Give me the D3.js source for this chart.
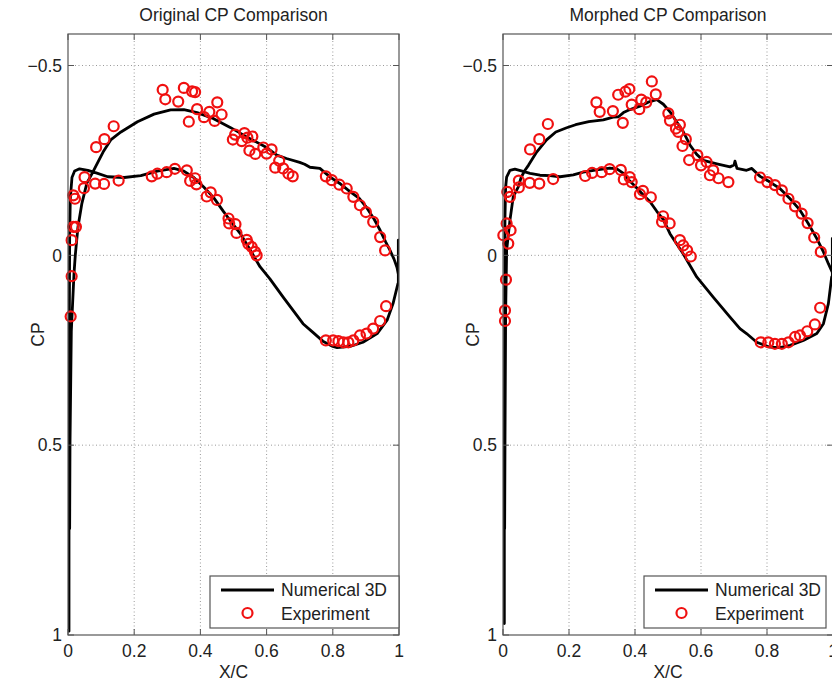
<!DOCTYPE html>
<html><head><meta charset="utf-8">
<script src="https://cdn.jsdelivr.net/npm/d3@7"></script>
<style>
body{margin:0;background:#fff}
svg{display:block}
text{font-family:"Liberation Sans",Arial,sans-serif;fill:#222}
</style>
</head><body><svg id="chart" width="832" height="682"></svg>
<script>
// ---------------- data ----------------
const xTicks = [0, 0.2, 0.4, 0.6, 0.8, 1];
const yTicks = [-0.5, 0, 0.5, 1];
const yDomain = [-0.583, 1];
const titles = ["Original CP Comparison", "Morphed CP Comparison"];
const legendLabels = ["Numerical 3D", "Experiment"];
const xLabel = "X/C";
const yLabel = "CP";

// Original - numerical, lower branch (leading edge -> trailing edge)
const origNumLower = [[0.003,0.99],[0.003,0.6],[0.004,0.2],[0.005,-0.05],[0.007,-0.15],[0.012,-0.205],[0.02,-0.222],[0.035,-0.228],[0.06,-0.224],[0.085,-0.217],[0.12,-0.207],[0.17,-0.205],[0.22,-0.21],[0.27,-0.222],[0.32,-0.229],[0.35,-0.222],[0.38,-0.205],[0.41,-0.18],[0.44,-0.152],[0.47,-0.115],[0.5,-0.08],[0.52,-0.058],[0.55,-0.015],[0.58,0.03],[0.61,0.062],[0.65,0.11],[0.71,0.18],[0.74,0.203],[0.77,0.226],[0.8,0.24],[0.813,0.243],[0.852,0.240],[0.891,0.229],[0.934,0.206],[0.964,0.171],[0.982,0.127],[0.997,0.074]];
// Original - numerical, trailing edge
const origNumTE = [[0.998,0.074],[0.998,-0.04],[0.998,0.05]];
// Original - numerical, upper branch (trailing edge -> leading edge)
const origNumUpper = [[0.998,0.05],[0.994,0.032],[0.985,0.01],[0.973,-0.013],[0.96,-0.035],[0.943,-0.066],[0.925,-0.095],[0.903,-0.125],[0.88,-0.15],[0.852,-0.168],[0.82,-0.19],[0.792,-0.206],[0.761,-0.229],[0.731,-0.232],[0.715,-0.24],[0.70,-0.245],[0.66,-0.255],[0.631,-0.264],[0.6,-0.284],[0.54,-0.312],[0.49,-0.337],[0.44,-0.36],[0.39,-0.376],[0.35,-0.384],[0.31,-0.383],[0.26,-0.372],[0.21,-0.352],[0.16,-0.325],[0.13,-0.305],[0.106,-0.272],[0.09,-0.245],[0.073,-0.216],[0.057,-0.19],[0.042,-0.137],[0.03,-0.074],[0.022,0.0],[0.018,0.05],[0.01,0.2],[0.006,0.5],[0.005,0.72]];
// Original - experiment
const origExp = [[0.016,-0.158],[0.021,-0.149],[0.016,-0.075],[0.024,-0.075],[0.011,-0.040],[0.011,0.055],[0.008,0.161],
[0.050,-0.206],[0.048,-0.177],[0.082,-0.189],[0.109,-0.188],[0.153,-0.197],[0.253,-0.208],[0.270,-0.215],[0.298,-0.219],[0.323,-0.228],[0.359,-0.224],[0.369,-0.196],[0.384,-0.203],[0.388,-0.187],[0.419,-0.155],[0.431,-0.166],[0.450,-0.146],[0.485,-0.097],[0.487,-0.084],[0.506,-0.082],[0.509,-0.059],[0.540,-0.041],[0.545,-0.030],[0.555,-0.022],[0.565,-0.009],[0.570,0.0],
[0.085,-0.285],[0.110,-0.306],[0.138,-0.340],
[0.286,-0.436],[0.294,-0.411],[0.350,-0.441],[0.375,-0.432],[0.384,-0.430],[0.333,-0.405],[0.365,-0.352],[0.390,-0.385],[0.411,-0.364],[0.427,-0.378],[0.443,-0.354],[0.451,-0.403],[0.464,-0.371],[0.498,-0.305],[0.505,-0.318],[0.525,-0.301],[0.533,-0.322],[0.542,-0.310],[0.548,-0.276],[0.557,-0.313],[0.566,-0.267],[0.590,-0.284],[0.600,-0.268],[0.615,-0.279],[0.626,-0.231],[0.638,-0.249],[0.650,-0.229],[0.666,-0.215],[0.679,-0.208],
[0.779,-0.208],[0.797,-0.198],[0.820,-0.186],[0.842,-0.176],[0.862,-0.154],[0.882,-0.132],[0.900,-0.114],[0.922,-0.088],[0.943,-0.048],[0.958,-0.013],
[0.961,0.134],[0.943,0.173],[0.922,0.193],[0.902,0.206],[0.882,0.211],[0.862,0.224],[0.847,0.229],[0.832,0.229],[0.817,0.226],[0.801,0.224],[0.779,0.224]];

// Morphed - numerical, lower branch
const morphNumLower = [[0.004,0.97],[0.004,0.6],[0.005,0.2],[0.006,-0.1],[0.008,-0.18],[0.011,-0.206],[0.021,-0.224],[0.036,-0.227],[0.061,-0.221],[0.082,-0.216],[0.112,-0.211],[0.142,-0.210],[0.173,-0.207],[0.213,-0.212],[0.243,-0.219],[0.284,-0.225],[0.324,-0.230],[0.345,-0.228],[0.365,-0.216],[0.385,-0.195],[0.405,-0.178],[0.425,-0.159],[0.445,-0.142],[0.466,-0.116],[0.486,-0.094],[0.506,-0.057],[0.546,-0.004],[0.587,0.057],[0.637,0.110],[0.688,0.163],[0.718,0.193],[0.738,0.206],[0.769,0.229],[0.809,0.242],[0.839,0.243],[0.870,0.237],[0.910,0.224],[0.951,0.206],[0.971,0.180],[0.986,0.127],[0.996,0.057]];
const morphNumTE = [[0.998,0.057],[0.998,-0.045],[0.998,0.045]];
const morphNumUpper = [[0.998,0.045],[0.986,0.022],[0.971,-0.009],[0.951,-0.044],[0.925,-0.084],[0.9,-0.119],[0.870,-0.149],[0.839,-0.176],[0.809,-0.193],[0.779,-0.208],[0.754,-0.229],[0.738,-0.224],[0.709,-0.229],[0.703,-0.248],[0.700,-0.238],[0.688,-0.233],[0.648,-0.241],[0.607,-0.25],[0.587,-0.266],[0.567,-0.29],[0.546,-0.326],[0.526,-0.352],[0.506,-0.378],[0.486,-0.398],[0.466,-0.41],[0.445,-0.405],[0.415,-0.393],[0.385,-0.384],[0.365,-0.376],[0.35,-0.365],[0.334,-0.364],[0.304,-0.357],[0.26,-0.352],[0.22,-0.344],[0.193,-0.336],[0.16,-0.325],[0.132,-0.304],[0.102,-0.272],[0.077,-0.237],[0.065,-0.222],[0.055,-0.205],[0.046,-0.18],[0.031,-0.154],[0.021,-0.092],[0.011,-0.013],[0.008,0.15],[0.006,0.5],[0.005,0.72]];
const morphExp = [[0.013,-0.167],[0.021,-0.154],[0.011,-0.084],[0.023,-0.066],[0.001,-0.053],[0.016,-0.031],[0.009,0.064],[0.006,0.145],[0.006,0.173],
[0.048,-0.197],[0.048,-0.179],[0.081,-0.191],[0.110,-0.189],[0.152,-0.201],[0.249,-0.209],[0.270,-0.217],[0.299,-0.219],[0.323,-0.227],[0.357,-0.225],[0.366,-0.200],[0.384,-0.206],[0.390,-0.193],[0.415,-0.161],[0.424,-0.170],[0.448,-0.153],[0.485,-0.103],[0.482,-0.088],[0.505,-0.084],[0.536,-0.040],[0.546,-0.026],[0.558,-0.013],[0.569,0.003],
[0.082,-0.279],[0.110,-0.306],[0.136,-0.346],
[0.283,-0.403],[0.293,-0.378],[0.333,-0.380],[0.363,-0.349],[0.349,-0.423],[0.371,-0.431],[0.383,-0.438],[0.390,-0.397],[0.413,-0.385],[0.419,-0.410],[0.434,-0.403],[0.451,-0.458],[0.463,-0.424],[0.501,-0.374],[0.506,-0.355],[0.524,-0.334],[0.536,-0.344],[0.531,-0.325],[0.554,-0.306],[0.544,-0.288],[0.564,-0.251],[0.589,-0.264],[0.600,-0.237],[0.617,-0.246],[0.627,-0.211],[0.637,-0.224],[0.653,-0.203],[0.683,-0.193],
[0.779,-0.205],[0.801,-0.193],[0.824,-0.185],[0.845,-0.171],[0.865,-0.149],[0.885,-0.129],[0.905,-0.110],[0.923,-0.085],[0.943,-0.047],[0.963,-0.009],
[0.961,0.138],[0.945,0.182],[0.922,0.200],[0.900,0.211],[0.885,0.215],[0.865,0.229],[0.845,0.233],[0.824,0.233],[0.804,0.229],[0.781,0.229]];

// ---------------- drawing ----------------
const svg = d3.select("#chart");
svg.append("rect").attr("width",832).attr("height",682).attr("fill","#fff");

const panels = [
  {left:68, right:399, title:titles[0], lower:origNumLower, te:origNumTE, upper:origNumUpper, exp:origExp, legend:{x0:210,x1:399}},
  {left:503, right:833, title:titles[1], lower:morphNumLower, te:morphNumTE, upper:morphNumUpper, exp:morphExp, legend:{x0:644,x1:826}}
];
const plotTop = 34, plotBottom = 635;
const fs = 17.5;
const axisColor = "#555";
const red = "#f01010";
const markR = 5, markW = 2.2, lineW = 2.8;

panels.forEach((p, i) => {
  const x = d3.scaleLinear().domain([0,1]).range([p.left, p.right]);
  const y = d3.scaleLinear().domain(yDomain).range([plotTop, plotBottom]);
  const g = svg.append("g");

  const gridColor = "#9a9a9a";
  g.selectAll(".gx").data(xTicks.filter(t => t>0 && t<1)).join("line")
    .attr("x1", d=>x(d)).attr("x2", d=>x(d)).attr("y1", plotTop).attr("y2", plotBottom)
    .attr("stroke", gridColor).attr("stroke-width",1).attr("stroke-dasharray","1,2.5");
  g.selectAll(".gy").data(yTicks.filter(t => t>yDomain[0] && t<1)).join("line")
    .attr("y1", d=>y(d)).attr("y2", d=>y(d)).attr("x1", p.left).attr("x2", p.right)
    .attr("stroke", gridColor).attr("stroke-width",1).attr("stroke-dasharray","1,2.5");

  const clipId = "clip"+i;
  svg.append("clipPath").attr("id", clipId).append("rect")
    .attr("x", p.left).attr("y", plotTop).attr("width", p.right-p.left).attr("height", plotBottom-plotTop);

  const line = d3.line().x(d=>x(d[0])).y(d=>y(d[1]));
  const full = p.lower.concat(p.te, p.upper);
  g.append("path").attr("d", line(full)).attr("fill","none")
    .attr("stroke","#000").attr("stroke-width",lineW).attr("stroke-linejoin","round").attr("stroke-linecap","round")
    .attr("clip-path","url(#"+clipId+")");

  g.selectAll(".exp").data(p.exp).join("circle")
    .attr("cx", d=>x(d[0])).attr("cy", d=>y(d[1])).attr("r",markR)
    .attr("fill","none").attr("stroke",red).attr("stroke-width",markW);

  g.append("rect").attr("x",p.left).attr("y",plotTop).attr("width",p.right-p.left).attr("height",plotBottom-plotTop)
    .attr("fill","none").attr("stroke",axisColor).attr("stroke-width",1.2);

  const tl = 6;
  xTicks.forEach(t => {
    g.append("line").attr("x1",x(t)).attr("x2",x(t)).attr("y1",plotBottom).attr("y2",plotBottom-tl).attr("stroke",axisColor);
    g.append("line").attr("x1",x(t)).attr("x2",x(t)).attr("y1",plotTop).attr("y2",plotTop+tl).attr("stroke",axisColor);
    g.append("text").attr("x",x(t)).attr("y",657).attr("text-anchor","middle")
      .attr("font-size",fs).text(d3.format("")(t));
  });
  yTicks.forEach(t => {
    g.append("line").attr("x1",p.left).attr("x2",p.left+tl).attr("y1",y(t)).attr("y2",y(t)).attr("stroke",axisColor);
    g.append("line").attr("x1",p.right).attr("x2",p.right-tl).attr("y1",y(t)).attr("y2",y(t)).attr("stroke",axisColor);
    g.append("text").attr("x",p.left-6).attr("y",y(t)).attr("dy","0.36em").attr("text-anchor","end")
      .attr("font-size",fs).text(t<0 ? "\u2212"+Math.abs(t) : String(t));
  });

  const cx = (p.left+p.right)/2;
  g.append("text").attr("x",cx).attr("y",21).attr("text-anchor","middle").attr("font-size",fs).text(p.title);
  g.append("text").attr("x",cx).attr("y",678).attr("text-anchor","middle").attr("font-size",fs).text(xLabel);
  g.append("text").attr("transform","translate("+(p.left-30)+","+((plotTop+plotBottom)/2)+") rotate(-90)")
    .attr("text-anchor","middle").attr("dy","0.35em").attr("font-size",fs).text(yLabel);

  const L = p.legend;
  g.append("rect").attr("x",L.x0).attr("y",576).attr("width",L.x1-L.x0).attr("height",52)
    .attr("fill","#fff").attr("stroke",axisColor).attr("stroke-width",1.2);
  g.append("line").attr("x1",L.x0+11).attr("x2",L.x0+64).attr("y1",590).attr("y2",590)
    .attr("stroke","#000").attr("stroke-width",lineW);
  g.append("circle").attr("cx",L.x0+37.5).attr("cy",613).attr("r",markR)
    .attr("fill","none").attr("stroke",red).attr("stroke-width",markW);
  g.append("text").attr("x",L.x0+71).attr("y",596).attr("font-size",fs).text(legendLabels[0]);
  g.append("text").attr("x",L.x0+71).attr("y",620).attr("font-size",fs).text(legendLabels[1]);
});
</script>
</body></html>
